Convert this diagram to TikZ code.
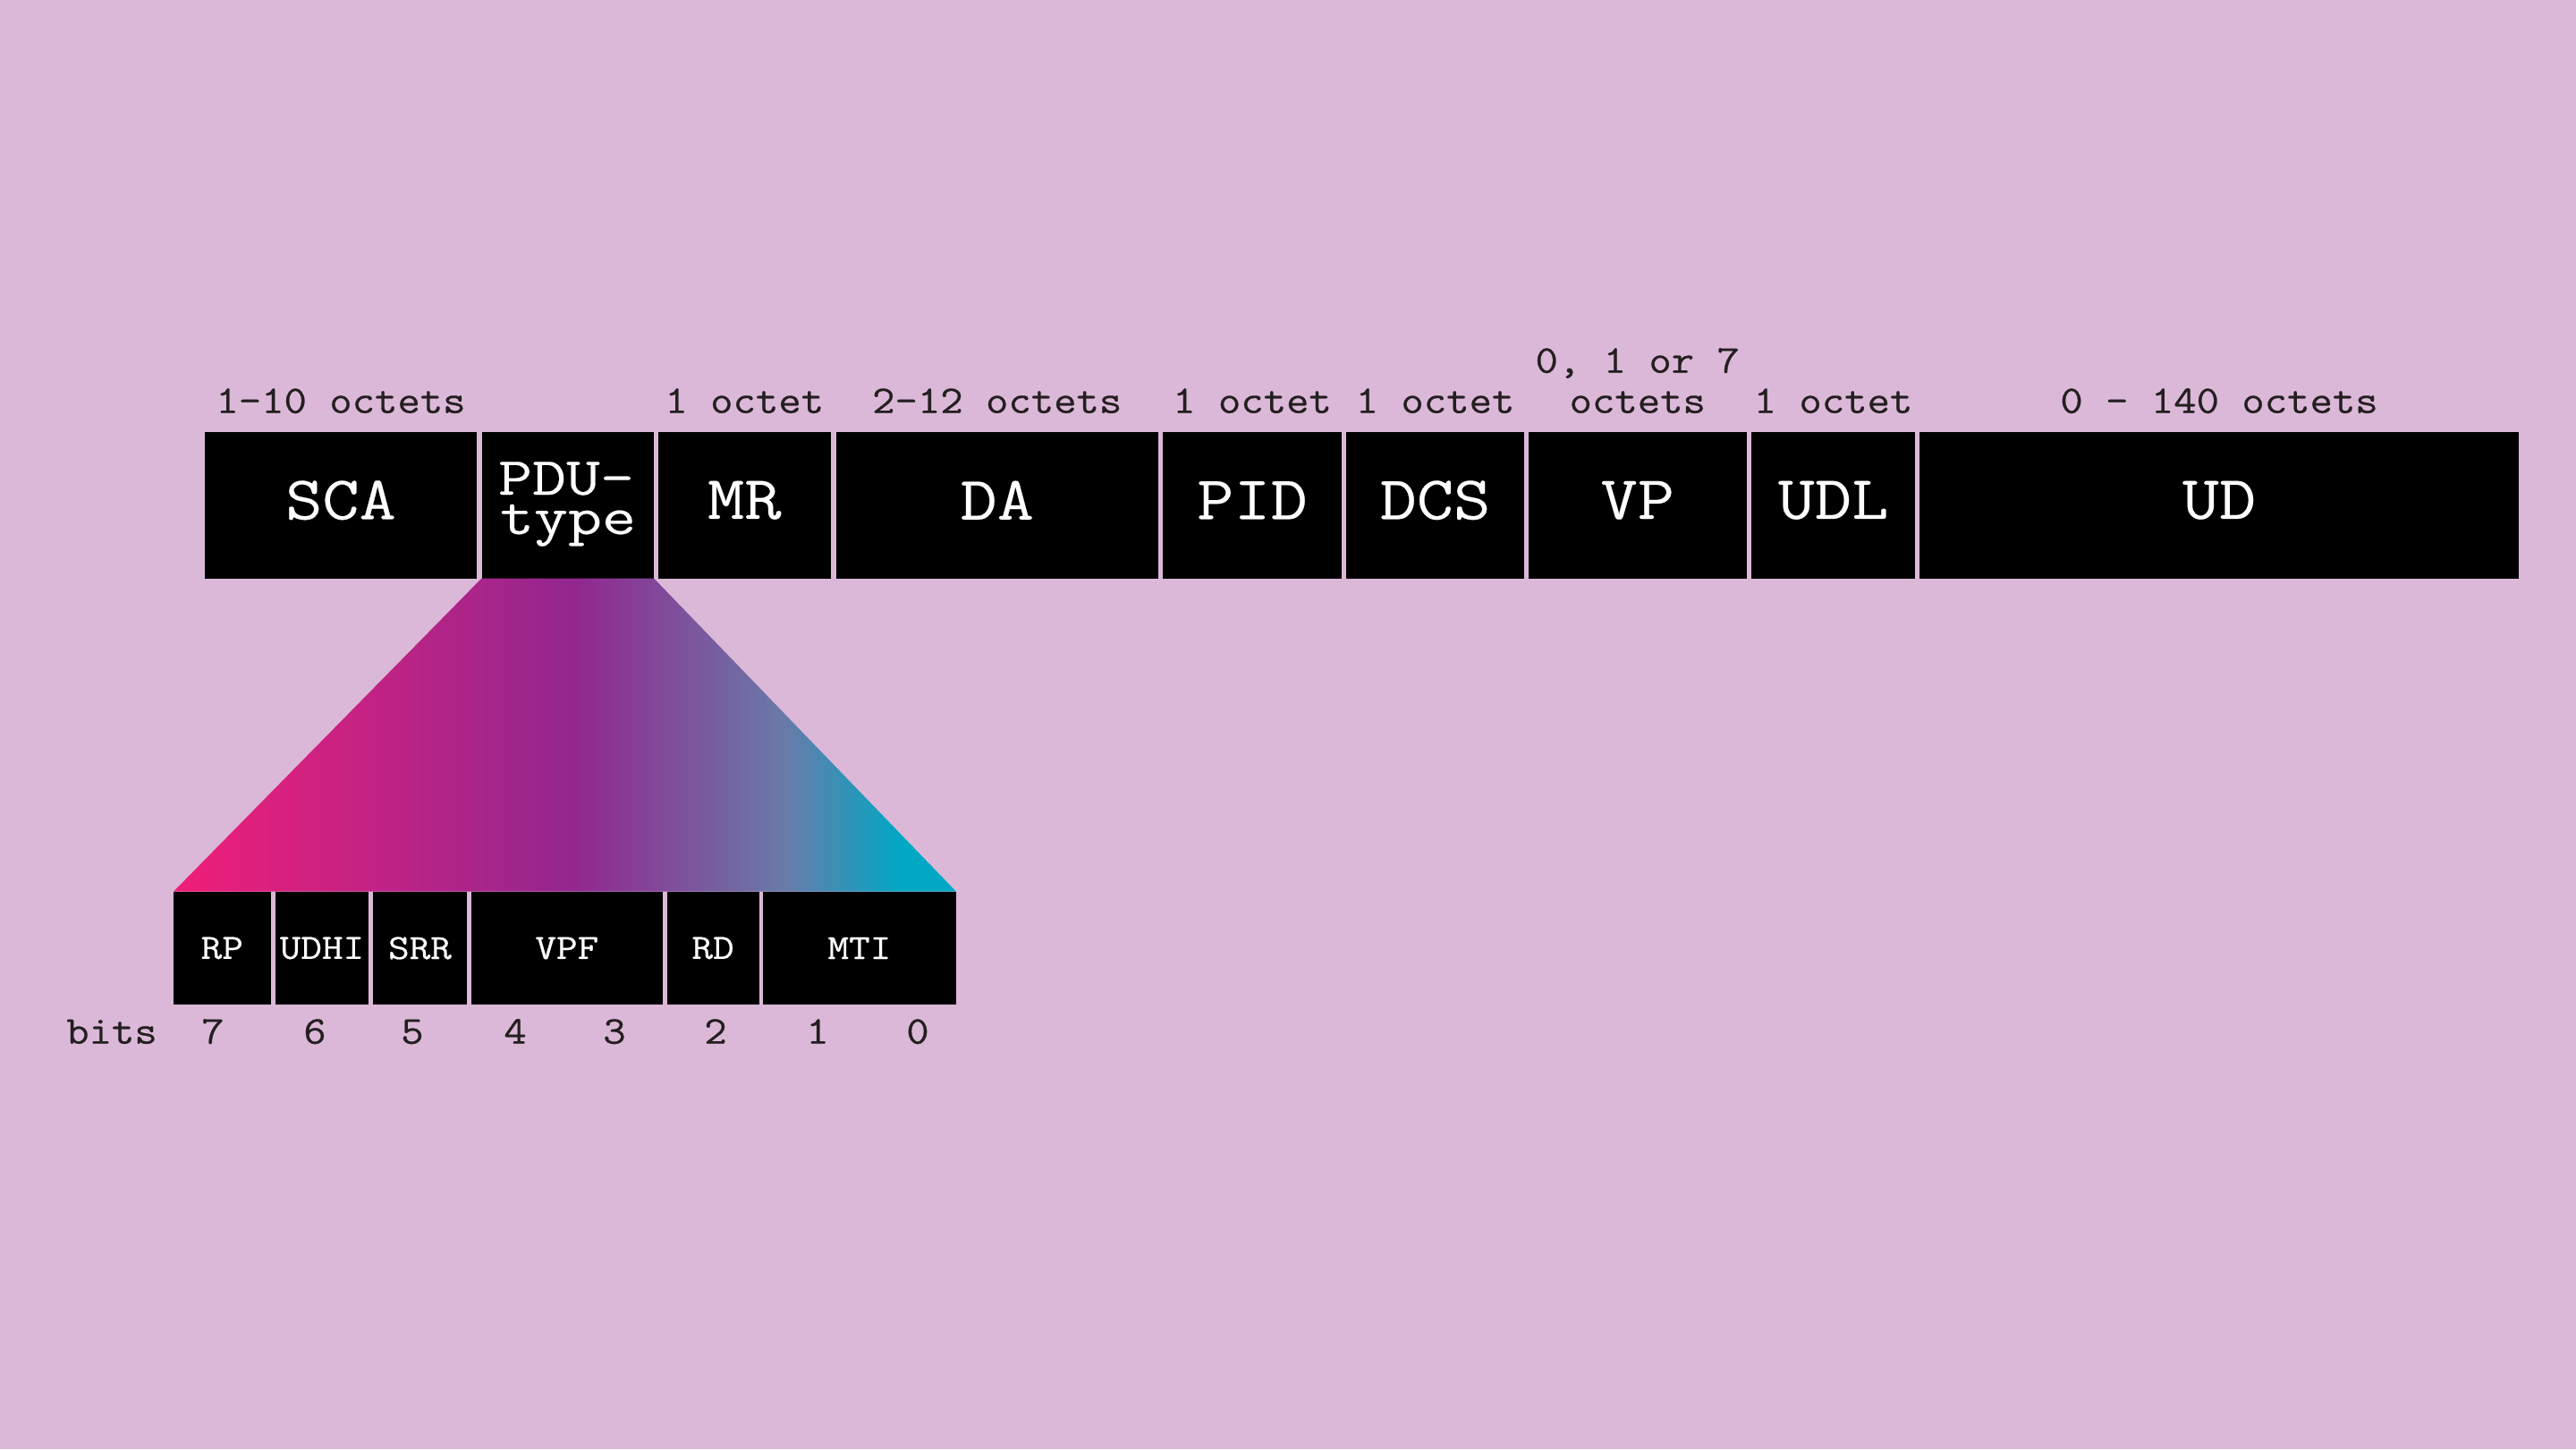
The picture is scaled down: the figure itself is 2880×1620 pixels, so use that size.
\documentclass[tikz,border=0pt]{standalone}
\usepackage{fontspec}
\newfontfamily\monoa{Latin Modern Mono}[FakeBold=0.3]
\newfontfamily\monob{Latin Modern Mono}[FakeBold=0.5]
\definecolor{bg}{RGB}{219,184,216}
\definecolor{gpink}{RGB}{237,30,121}
\definecolor{gpurple}{RGB}{146,39,143}
\definecolor{gslate}{RGB}{105,122,168}
\definecolor{gcyan}{RGB}{0,168,196}
\definecolor{ink}{RGB}{35,31,32}
\pgfdeclarehorizontalshading{pdugrad}{100bp}{color(0bp)=(gpink); color(26bp)=(gpink); color(50.65bp)=(gpurple); color(64bp)=(gslate); color(71.5bp)=(gcyan); color(100bp)=(gcyan)}
\newcommand\hsq[2]{\scalebox{#1}[1]{#2}}
\begin{document}
\begin{tikzpicture}[x=1pt,y=-1pt,
  field/.style={fill=black, inner sep=0pt, outer sep=0pt, minimum height=163.5pt},
  bitfield/.style={fill=black, inner sep=0pt, outer sep=0pt, minimum height=126.6pt},
  bigtxt/.style={text=white, inner sep=0pt, font=\monoa\fontsize{69}{69}\selectfont},
  pdutxt/.style={text=white, inner sep=0pt, anchor=base, font=\monoa\fontsize{60}{60}\selectfont},
  smalltxt/.style={text=ink, inner sep=0pt, anchor=base, font=\monob\fontsize{44}{45}\selectfont},
  bittxt/.style={text=white, inner sep=0pt, font=\monob\fontsize{39.5}{40}\selectfont}]
\fill[bg] (0,0) rectangle (2880,1620);
\useasboundingbox (0,0) rectangle (2880,1620);

% top fields
\node[field, minimum width=304pt]   (sca) at (381,564.75) {};
\node[field, minimum width=192.5pt] (pdu) at (634.75,564.75) {};
\node[field, minimum width=193.5pt] (mr)  at (832.25,564.75) {};
\node[field, minimum width=360.5pt] (da)  at (1114.75,564.75) {};
\node[field, minimum width=200pt]   (pid) at (1400,564.75) {};
\node[field, minimum width=199pt]   (dcs) at (1604.5,564.75) {};
\node[field, minimum width=244.5pt] (vp)  at (1830.75,564.75) {};
\node[field, minimum width=183pt]   (udl) at (2049.5,564.75) {};
\node[field, minimum width=670pt]   (ud)  at (2481,564.75) {};

\node[bigtxt] (tsca) at ([yshift=5.5pt]sca.center) {\hsq{1.16}{SCA}};
\node[pdutxt] (tpdu1) at (633,553) {\hsq{1.23}{PDU-}};
\node[pdutxt] (tpdu2) at (635,597) {\hsq{1.23}{type}};
\node[bigtxt] (tmr)  at ([yshift=5.5pt]mr.center) {\hsq{1.16}{MR}};
\node[bigtxt] (tda)  at ([yshift=5.5pt]da.center) {\hsq{1.16}{DA}};
\node[bigtxt] (tpid) at ([yshift=5.5pt]pid.center) {\hsq{1.16}{PID}};
\node[bigtxt] (tdcs) at ([yshift=5.5pt]dcs.center) {\hsq{1.16}{DCS}};
\node[bigtxt] (tvp)  at ([yshift=5.5pt]vp.center) {\hsq{1.16}{VP}};
\node[bigtxt] (tudl) at ([yshift=5.5pt]udl.center) {\hsq{1.16}{UDL}};
\node[bigtxt] (tud)  at ([yshift=5.5pt]ud.center) {\hsq{1.16}{UD}};

% size labels
\node[smalltxt] (lsca) at (381,461.7) {\hsq{1.12}{1-10 octets}};
\node[smalltxt] (lmr)  at (832.25,461.7) {\hsq{1.12}{1 octet}};
\node[smalltxt] (lda)  at (1114.75,461.7) {\hsq{1.12}{2-12 octets}};
\node[smalltxt] (lpid) at (1400,461.7) {\hsq{1.12}{1 octet}};
\node[smalltxt] (ldcs) at (1604.5,461.7) {\hsq{1.12}{1 octet}};
\node[smalltxt] (lvp1) at (1830.75,416.7) {\hsq{1.12}{0, 1 or 7}};
\node[smalltxt] (lvp2) at (1830.75,461.7) {\hsq{1.12}{octets}};
\node[smalltxt] (ludl) at (2049.5,461.7) {\hsq{1.12}{1 octet}};
\node[smalltxt] (lud)  at (2481,461.7) {\hsq{1.12}{0 - 140 octets}};

% bit fields
\node[bitfield, minimum width=108.7pt] (rp)   at (248.35,1060) {};
\node[bitfield, minimum width=104.9pt] (udhi) at (359.95,1060) {};
\node[bitfield, minimum width=105pt]   (srr)  at (469.5,1060) {};
\node[bitfield, minimum width=213.7pt] (vpf)  at (633.85,1060) {};
\node[bitfield, minimum width=103pt]   (rd)   at (797.1,1060) {};
\node[bitfield, minimum width=216.2pt] (mti)  at (960.9,1060) {};

\node[bittxt] (trp)   at (rp.center) {\hsq{1.16}{RP}};
\node[bittxt] (tudhi) at (udhi.center) {\hsq{1.16}{UDHI}};
\node[bittxt] (tsrr)  at (srr.center) {\hsq{1.16}{SRR}};
\node[bittxt] (tvpf)  at (vpf.center) {\hsq{1.16}{VPF}};
\node[bittxt] (trd)   at (rd.center) {\hsq{1.16}{RD}};
\node[bittxt] (tmti)  at (mti.center) {\hsq{1.16}{MTI}};

% expansion
\shade[shading=pdugrad] (pdu.south west) -- (pdu.south east) -- (mti.north east) -- (rp.north west) -- cycle;

% bit numbers
\node[smalltxt] (bits) at (125,1166.7) {\hsq{1.12}{bits}};
\node[smalltxt] (b7) at (238,1166.7) {\hsq{1.12}{7}};
\node[smalltxt] (b6) at (352,1166.7) {\hsq{1.12}{6}};
\node[smalltxt] (b5) at (461,1166.7) {\hsq{1.12}{5}};
\node[smalltxt] (b4) at (576,1166.7) {\hsq{1.12}{4}};
\node[smalltxt] (b3) at (687,1166.7) {\hsq{1.12}{3}};
\node[smalltxt] (b2) at (800,1166.7) {\hsq{1.12}{2}};
\node[smalltxt] (b1) at (914,1166.7) {\hsq{1.12}{1}};
\node[smalltxt] (b0) at (1026,1166.7) {\hsq{1.12}{0}};
\end{tikzpicture}
\end{document}
